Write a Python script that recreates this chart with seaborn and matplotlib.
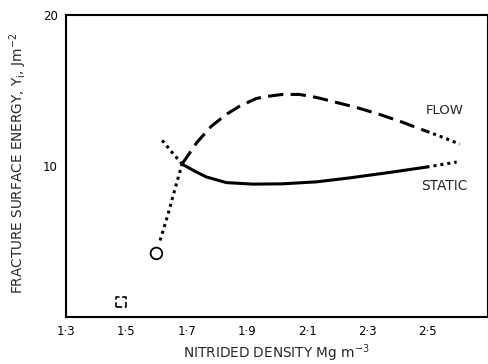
import numpy as np
import pandas as pd
import matplotlib
matplotlib.use("Agg")
import matplotlib.pyplot as plt
import seaborn as sns

# ---- data ----
flow_low_x = [1.612, 1.637, 1.659, 1.685]
flow_low_y = [5.07, 6.70, 8.29, 10.13]
flow_mid_x = [1.685, 1.735, 1.782, 1.832, 1.875, 1.931, 1.964, 2.018, 2.074,
              2.131, 2.197, 2.263, 2.340, 2.416, 2.496]
flow_mid_y = [10.13, 11.58, 12.63, 13.42, 13.95, 14.47, 14.60, 14.74, 14.74,
              14.54, 14.21, 13.88, 13.42, 12.90, 12.30]
flow_high_x = [2.496, 2.550, 2.606]
flow_high_y = [12.30, 11.90, 11.45]

static_low_x = [1.619, 1.650, 1.685]
static_low_y = [11.70, 10.95, 10.13]
static_mid_x = [1.685, 1.725, 1.765, 1.832, 1.920, 2.018, 2.131, 2.240, 2.383, 2.496]
static_mid_y = [10.13, 9.68, 9.28, 8.90, 8.80, 8.82, 8.95, 9.21, 9.60, 9.93]
static_high_x = [2.496, 2.596]
static_high_y = [9.93, 10.26]

circle_x = [1.600]
circle_y = [4.21]
square_x = [1.482]
square_y = [1.00]

x_ticks = [1.3, 1.5, 1.7, 1.9, 2.1, 2.3, 2.5]
x_tick_labels = ["1·3", "1·5", "1·7", "1·9", "2·1", "2·3", "2·5"]
y_ticks = [10, 20]
y_tick_labels = ["10", "20"]

sns.set_style("white")
plt.rcParams['font.family'] = ['DejaVu Sans']

fig = plt.figure(figsize=(4.89, 3.64), dpi=100)
ax = fig.add_axes([66 / 489, 47 / 364, 422 / 489, 302 / 364])

lw = 2.2
dash_style = (0, (5, 2.4))
dot_style = (0, (1.0, 1.3))

segments = [
    (flow_low_x, flow_low_y, dot_style),
    (flow_mid_x, flow_mid_y, dash_style),
    (flow_high_x, flow_high_y, dot_style),
    (static_low_x, static_low_y, dot_style),
    (static_mid_x, static_mid_y, '-'),
    (static_high_x, static_high_y, dot_style),
]
for xs, ys, ls in segments:
    df = pd.DataFrame({"x": xs, "y": ys})
    sns.lineplot(data=df, x="x", y="y", ax=ax, color="black", lw=lw,
                 linestyle=ls, sort=False, estimator=None)

sns.scatterplot(x=circle_x, y=circle_y, ax=ax, marker='o', s=70,
                facecolor='none', edgecolor='black', linewidth=1.3)
sns.scatterplot(x=square_x, y=square_y, ax=ax, marker='s', s=45,
                facecolor='none', edgecolor='black', linewidth=1.2,
                linestyle='--')

ax.text(2.556, 13.68, "FLOW", fontsize=9.5, ha='center', va='center')
ax.text(2.556, 8.68, "STATIC", fontsize=9.8, ha='center', va='center')

ax.set_xlim(1.3, 2.7)
ax.set_ylim(0, 20)
ax.set_xticks(x_ticks)
ax.set_xticklabels(x_tick_labels)
ax.set_yticks(y_ticks)
ax.set_yticklabels(y_tick_labels)
ax.tick_params(direction='in', length=5, width=1.3, labelsize=8.5,
               colors='black', pad=6)

ax.set_xlabel(r"NITRIDED DENSITY Mg m$^{\mathregular{-3}}$", fontsize=9.8)
ax.set_ylabel(r"FRACTURE SURFACE ENERGY, Y$_{\mathregular{i}}$, Jm$^{\mathregular{-2}}$",
              fontsize=9.8)
ax.xaxis.set_label_coords(0.498, -0.084)
ax.yaxis.set_label_coords(-0.088, 0.507)

for sp in ax.spines.values():
    sp.set_visible(True)
    sp.set_color('black')
    sp.set_linewidth(1.5)

fig.savefig("out.png", dpi=100)
